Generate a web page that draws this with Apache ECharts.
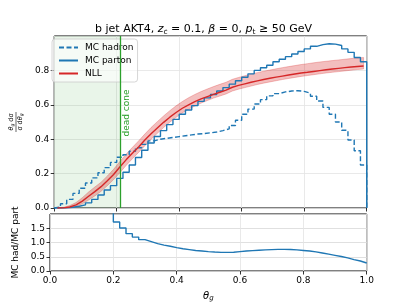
<!DOCTYPE html>
<html><head><meta charset="utf-8">
<script src="https://cdn.jsdelivr.net/npm/echarts@6/dist/echarts.min.js"></script>
<style>html,body{margin:0;padding:0;background:#fff}#c{width:407px;height:305px}</style>
</head><body><div id="c"></div>
<script>
// bin edges of the histograms (bin width 0.02)
const binEdges = [0.00,0.02,0.04,0.06,0.08,0.10,0.12,0.14,0.16,0.18,0.20,0.22,0.24,0.26,0.28,0.30,0.32,0.34,0.36,0.38,0.40,0.42,0.44,0.46,0.48,0.50,0.52,0.54,0.56,0.58,0.60,0.62,0.64,0.66,0.68,0.70,0.72,0.74,0.76,0.78,0.80,0.82,0.84,0.86,0.88,0.90,0.92,0.94,0.96,0.98,1.00];
const binCenters = [0.01,0.03,0.05,0.07,0.09,0.11,0.13,0.15,0.17,0.19,0.21,0.23,0.25,0.27,0.29,0.31,0.33,0.35,0.37,0.39,0.41,0.43,0.45,0.47,0.49,0.51,0.53,0.55,0.57,0.59,0.61,0.63,0.65,0.67,0.69,0.71,0.73,0.75,0.77,0.79,0.81,0.83,0.85,0.87,0.89,0.91,0.93,0.95,0.97,0.99];
const mcHadron = [0.005,0.025,0.05,0.085,0.115,0.145,0.175,0.205,0.235,0.265,0.295,0.31,0.33,0.35,0.37,0.39,0.40,0.405,0.41,0.415,0.42,0.425,0.43,0.433,0.437,0.442,0.45,0.46,0.48,0.51,0.545,0.575,0.605,0.63,0.652,0.665,0.675,0.68,0.682,0.678,0.668,0.65,0.622,0.585,0.545,0.50,0.452,0.395,0.333,0.25];
const mcParton = [0.0,0.001,0.004,0.01,0.018,0.03,0.05,0.076,0.105,0.13,0.172,0.208,0.25,0.294,0.336,0.378,0.416,0.45,0.485,0.515,0.545,0.57,0.595,0.62,0.64,0.66,0.68,0.70,0.72,0.74,0.76,0.78,0.80,0.815,0.83,0.85,0.865,0.88,0.895,0.91,0.925,0.94,0.95,0.955,0.953,0.945,0.925,0.905,0.875,0.85];
const nllCentral = [0.000,0.001,0.006,0.018,0.040,0.068,0.095,0.124,0.158,0.195,0.238,0.280,0.318,0.355,0.395,0.432,0.465,0.498,0.528,0.555,0.580,0.600,0.618,0.634,0.648,0.661,0.673,0.685,0.702,0.713,0.722,0.731,0.739,0.747,0.754,0.761,0.767,0.773,0.779,0.785,0.789,0.794,0.799,0.804,0.808,0.812,0.816,0.820,0.823,0.826];
const nllHigh = [0.001,0.004,0.014,0.032,0.060,0.093,0.122,0.150,0.186,0.225,0.270,0.313,0.352,0.390,0.430,0.468,0.502,0.535,0.566,0.594,0.619,0.641,0.660,0.677,0.692,0.706,0.719,0.731,0.748,0.759,0.769,0.778,0.787,0.795,0.802,0.809,0.816,0.822,0.828,0.834,0.839,0.844,0.849,0.853,0.857,0.861,0.865,0.869,0.872,0.875];
const nllLow = [0.000,0.000,0.002,0.008,0.024,0.046,0.070,0.097,0.130,0.165,0.205,0.247,0.286,0.323,0.362,0.400,0.434,0.468,0.499,0.527,0.553,0.574,0.593,0.610,0.625,0.639,0.651,0.663,0.680,0.691,0.700,0.709,0.718,0.726,0.733,0.740,0.747,0.753,0.759,0.765,0.770,0.775,0.780,0.785,0.789,0.793,0.797,0.801,0.805,0.808];
// ratio MC had / MC part, bins from 0.18 to 1.00 (first bin is above the plotted range)
const ratioEdges = [0.18,0.20,0.22,0.24,0.26,0.28,0.30,0.32,0.34,0.36,0.38,0.40,0.42,0.44,0.46,0.48,0.50,0.52,0.54,0.56,0.58,0.60,0.62,0.64,0.66,0.68,0.70,0.72,0.74,0.76,0.78,0.80,0.82,0.84,0.86,0.88,0.90,0.92,0.94,0.96,0.98,1.00];
const ratioValues = [2.2,1.72,1.51,1.31,1.19,1.10,1.03,0.96,0.91,0.87,0.82,0.78,0.75,0.72,0.70,0.68,0.665,0.655,0.655,0.66,0.68,0.70,0.715,0.73,0.74,0.75,0.76,0.76,0.755,0.74,0.72,0.70,0.67,0.63,0.59,0.55,0.51,0.46,0.40,0.35,0.28];
const deadCone = 0.21;
const xTicks = [0.0,0.2,0.4,0.6,0.8,1.0];
const yTicksMain = [0.0,0.2,0.4,0.6,0.8];
const yTicksRatio = [0.0,0.5,1.0,1.5];

function stepData(edges, vals, closeEnds) {
  const pts = [];
  if (closeEnds) pts.push([edges[0], 0]);
  vals.forEach((v, i) => pts.push([edges[i], v]));
  pts.push([edges[vals.length], vals[vals.length - 1]]);
  if (closeEnds) pts.push([edges[vals.length], 0]);
  return pts;
}

const FONT = 'DejaVu Sans';
const BLUE = '#1f77b4', RED = '#d62728', GREEN = '#2ca02c';
const fmt = v => v.toFixed(1);

const chart = echarts.init(document.getElementById('c'), null, {renderer: 'canvas'});
const axisCommonX = {
  type: 'value', min: 0, max: 1, interval: 0.2,
  axisLine: {show: false},
  axisTick: {show: true, length: 3.5, inside: false, lineStyle: {color: '#000', width: 0.8}},
  splitLine: {show: true, lineStyle: {color: '#e3e3e3', width: 0.8}},
};
const option = {
  animation: false,
  backgroundColor: '#fff',
  textStyle: {fontFamily: FONT},
  title: {
    left: 'center', top: 17,
    text: 'b jet AKT4, {it|z}{sub|c}{n| = 0.1, }{it|β}{n| = 0, }{it|p}{sub|t}{n| ≥ 50 GeV}',
    textStyle: {
      fontFamily: FONT, fontSize: 11, fontWeight: 'normal', color: '#000',
      rich: {
        n: {fontFamily: FONT, fontSize: 11, color: '#000', lineHeight: 14},
        it: {fontFamily: FONT, fontSize: 11, fontStyle: 'italic', color: '#000', lineHeight: 14},
        sub: {fontFamily: FONT, fontSize: 7.5, fontStyle: 'normal', color: '#000', verticalAlign: 'bottom', lineHeight: 9}
      }
    }
  },
  legend: {
    orient: 'vertical', left: 52, top: 39,
    itemWidth: 19, itemHeight: 9, itemGap: 4,
    padding: [4, 4, 4, 6],
    backgroundColor: 'rgba(255,255,255,0.6)',
    borderColor: '#cccccc', borderWidth: 0.8, borderRadius: 3,
    itemStyle: {opacity: 0},
    textStyle: {fontFamily: FONT, fontSize: 9, color: '#000', padding: [0, 0, 0, 2]},
    data: ['MC hadron', 'MC parton', 'NLL']
  },
  grid: [
    {left: 50, top: 36, width: 316.7, height: 172, show: true, borderColor: '#000', borderWidth: 1, backgroundColor: 'transparent'},
    {left: 50, top: 214, width: 316.7, height: 57, show: true, borderColor: '#000', borderWidth: 1, backgroundColor: 'transparent'}
  ],
  xAxis: [
    Object.assign({}, axisCommonX, {gridIndex: 0, axisLabel: {show: false}}),
    Object.assign({}, axisCommonX, {
      gridIndex: 1,
      axisLabel: {show: true, fontFamily: FONT, fontSize: 9, color: '#000', margin: 5, formatter: fmt},
      name: '{it|θ}{sub|g}', nameLocation: 'middle', nameGap: 19,
      nameTextStyle: {fontFamily: FONT, fontSize: 10, color: '#000',
        rich: {it: {fontFamily: FONT, fontSize: 10, fontStyle: 'italic', color: '#000', lineHeight: 12},
               sub: {fontFamily: FONT, fontSize: 7, fontStyle: 'italic', color: '#000', verticalAlign: 'bottom', lineHeight: 8}}}
    })
  ],
  yAxis: [
    {
      gridIndex: 0, type: 'value', min: 0, max: 1.0, interval: 0.2,
      axisLine: {show: false},
      axisTick: {show: true, length: 3.5, lineStyle: {color: '#000', width: 0.8}},
      splitLine: {show: true, lineStyle: {color: '#e3e3e3', width: 0.8}},
      axisLabel: {fontFamily: FONT, fontSize: 9, color: '#000', margin: 5, showMaxLabel: false, formatter: fmt},
      name: '{it|θ}{s|g}{n| dσ}\n{bar|}\n{n|σ d}{it|θ}{s|g}', nameLocation: 'middle', nameGap: 28, nameRotate: 90,
      nameTextStyle: {fontFamily: FONT, fontSize: 6.5, color: '#000', align: 'center',
        rich: {
          n: {fontFamily: FONT, fontSize: 6.5, color: '#000', lineHeight: 7},
          it: {fontFamily: FONT, fontSize: 6.5, fontStyle: 'italic', color: '#000', lineHeight: 7},
          s: {fontFamily: FONT, fontSize: 4.5, fontStyle: 'italic', color: '#000', verticalAlign: 'bottom', lineHeight: 5},
          bar: {width: 20, height: 0.6, lineHeight: 2, backgroundColor: '#000'}
        }}
    },
    {
      gridIndex: 1, type: 'value', min: 0, max: 2.0, interval: 0.5,
      axisLine: {show: false},
      axisTick: {show: true, length: 3.5, lineStyle: {color: '#000', width: 0.8}},
      splitLine: {show: true, lineStyle: {color: '#d8d8d8', width: 0.8}},
      axisLabel: {fontFamily: FONT, fontSize: 9, color: '#000', margin: 5, showMaxLabel: false, formatter: fmt},
      name: 'MC had/MC part', nameLocation: 'middle', nameGap: 26, nameRotate: 90,
      nameTextStyle: {fontFamily: FONT, fontSize: 9, color: '#000'}
    }
  ],
  series: [
    {
      name: 'deadcone', type: 'line', xAxisIndex: 0, yAxisIndex: 0, z: 1,
      data: [[deadCone, 0]], symbol: 'none', lineStyle: {width: 0}, silent: true,
      markArea: {silent: true, itemStyle: {color: 'rgba(44,160,44,0.1)'}, data: [[{xAxis: 0}, {xAxis: deadCone}]]},
      markLine: {
        silent: true, symbol: ['none', 'none'],
        lineStyle: {color: GREEN, width: 1.3, type: 'solid'},
        label: {show: true, formatter: 'dead cone', position: 'insideMiddleBottom', color: GREEN, fontFamily: FONT, fontSize: 9, distance: 2, padding: [0, 0, 0, 18]},
        data: [{xAxis: deadCone}]
      }
    },
    {
      name: 'NLL band', type: 'custom', xAxisIndex: 0, yAxisIndex: 0, z: 2, silent: true,
      data: [[binCenters[0], nllLow[0]]],
      renderItem: function (params, api) {
        const pts = [];
        for (let i = 0; i < binCenters.length; i++) pts.push(api.coord([binCenters[i], nllHigh[i]]));
        for (let i = binCenters.length - 1; i >= 0; i--) pts.push(api.coord([binCenters[i], nllLow[i]]));
        return {type: 'polygon', shape: {points: pts}, style: {fill: 'rgba(214,39,40,0.3)', stroke: 'rgba(214,39,40,0.35)', lineWidth: 0.8}};
      }
    },
    {
      name: 'MC hadron', type: 'line', step: 'end', xAxisIndex: 0, yAxisIndex: 0, z: 3,
      data: stepData(binEdges, mcHadron, true), symbol: 'none',
      itemStyle: {color: BLUE}, lineStyle: {color: BLUE, width: 1.4, type: [5, 2.5]}
    },
    {
      name: 'MC parton', type: 'line', step: 'end', xAxisIndex: 0, yAxisIndex: 0, z: 3,
      data: stepData(binEdges, mcParton, true), symbol: 'none',
      itemStyle: {color: BLUE}, lineStyle: {color: BLUE, width: 1.4, type: 'solid'}
    },
    {
      name: 'NLL', type: 'line', xAxisIndex: 0, yAxisIndex: 0, z: 4,
      data: binCenters.map((x, i) => [x, nllCentral[i]]), symbol: 'none',
      itemStyle: {color: RED}, lineStyle: {color: RED, width: 1.4}
    },
    {
      name: 'ratio', type: 'line', step: 'end', xAxisIndex: 1, yAxisIndex: 1, z: 3,
      data: stepData(ratioEdges, ratioValues, false), symbol: 'none', clip: true,
      itemStyle: {color: BLUE}, lineStyle: {color: BLUE, width: 1.4}
    }
  ]
};
chart.setOption(option);
</script></body></html>
